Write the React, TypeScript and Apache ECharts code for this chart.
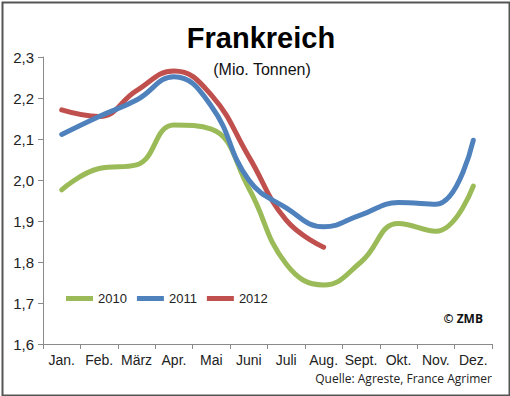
import React, { useEffect, useRef } from "react";
import * as echarts from "echarts";

const months = ["Jan.", "Feb.", "März", "Apr.", "Mai", "Juni", "Juli", "Aug.", "Sept.", "Okt.", "Nov.", "Dez."];
const s2010 = [1.976, 2.028, 2.037, 2.134, 2.124, 1.98, 1.795, 1.744, 1.8, 1.894, 1.875, 1.985];
const s2011 = [2.111, 2.155, 2.195, 2.252, 2.18, 2.0, 1.932, 1.886, 1.915, 1.945, 1.941, 2.097];
const s2012 = [2.171, 2.155, 2.218, 2.266, 2.207, 2.057, 1.902, 1.836];
const seriesNames = ["2010", "2011", "2012"];
const colors = ["#9BBB59", "#4F81BD", "#C0504D"];

const FONT = "'Liberation Sans', Arial, sans-serif";

export default function App() {
  const ref = useRef<HTMLDivElement>(null);
  useEffect(() => {
    if (!ref.current) return;
    const chart = echarts.init(ref.current, null, { renderer: "svg" });
    const data = [s2010, s2011, s2012];
    chart.setOption({
      animation: false,
      backgroundColor: "#ffffff",
      grid: { left: 43, right: 18, top: 57, bottom: 52, containLabel: false },
      legend: {
        left: 61,
        top: 287,
        icon: "rect",
        itemWidth: 27,
        itemHeight: 5,
        itemGap: 10,
        textStyle: { fontFamily: FONT, fontSize: 13, color: "#222" },
        data: seriesNames,
      },
      xAxis: {
        type: "category",
        data: months,
        boundaryGap: true,
        axisLine: { lineStyle: { color: "#8a8a8a", width: 1 } },
        axisTick: { show: true, length: 5, alignWithLabel: false, lineStyle: { color: "#8a8a8a" } },
        axisLabel: { fontFamily: FONT, fontSize: 14, color: "#222", margin: 9, interval: 0 },
        splitLine: { show: false },
      },
      yAxis: {
        type: "value",
        min: 1.6,
        max: 2.3,
        interval: 0.1,
        axisLine: { show: true, lineStyle: { color: "#8a8a8a", width: 1 } },
        axisTick: { show: true, length: 5, lineStyle: { color: "#8a8a8a" } },
        axisLabel: {
          fontFamily: FONT,
          fontSize: 15,
          color: "#222",
          margin: 9,
          formatter: (v: number) => v.toFixed(1).replace(".", ","),
        },
        splitLine: { show: false },
      },
      series: seriesNames.map((name, i) => ({
        name,
        type: "line",
        data: data[i],
        smooth: 0.45,
        symbol: "none",
        lineStyle: { color: colors[i], width: 5, cap: "round" },
        itemStyle: { color: colors[i] },
        z: 2 + (i === 2 ? 1 : i === 1 ? 2 : 0),
      })),
      graphic: [
        {
          type: "rect",
          left: 0,
          top: 0,
          shape: { x: 1, y: 1, width: 507, height: 393 },
          style: { fill: "none", stroke: "#555", lineWidth: 2 },
          silent: true,
        },
        {
          type: "text",
          x: 261,
          y: 38,
          style: {
            text: "Frankreich",
            fontFamily: FONT,
            fontSize: 29,
            fontWeight: "bold",
            fill: "#000",
            textAlign: "center",
            textVerticalAlign: "middle",
          },
        },
        {
          type: "text",
          x: 262,
          y: 69,
          style: {
            text: "(Mio. Tonnen)",
            fontFamily: FONT,
            fontSize: 16,
            fill: "#111",
            textAlign: "center",
            textVerticalAlign: "middle",
          },
        },
        {
          type: "text",
          x: 483,
          y: 318,
          style: {
            text: "© ZMB",
            fontFamily: "'Open Sans', sans-serif",
            fontSize: 12,
            fontWeight: "bold",
            fill: "#111",
            textAlign: "right",
            textVerticalAlign: "middle",
          },
        },
        {
          type: "text",
          x: 492,
          y: 378,
          style: {
            text: "Quelle: Agreste, France Agrimer",
            fontFamily: "'Open Sans', sans-serif",
            fontSize: 12,
            fill: "#222",
            textAlign: "right",
            textVerticalAlign: "middle",
          },
        },
      ],
    });
    return () => chart.dispose();
  }, []);
  return (
    <div style={{ position: "fixed", left: 0, top: 0, width: 510, height: 396 }}>
      <div ref={ref} style={{ width: 510, height: 396 }} />
    </div>
  );
}
